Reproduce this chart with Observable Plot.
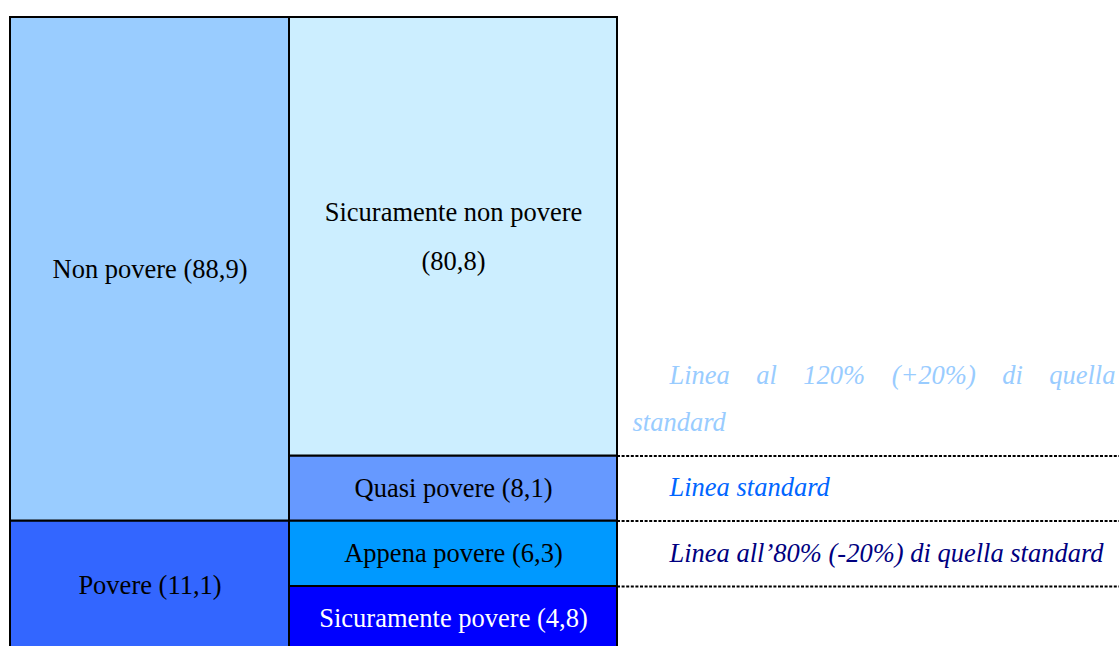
<!DOCTYPE html>
<html><head><meta charset="utf-8">
<script src="https://cdn.jsdelivr.net/npm/d3@7"></script>
<script src="https://cdn.jsdelivr.net/npm/@observablehq/plot@0.6"></script>
<style>html,body{margin:0;padding:0;background:#fff;overflow:hidden}</style>
</head><body><div id="chart"></div>
<script>
// Data
const gruppi = ["Povere", "Non povere"];
const gruppiValori = [11.1, 88.9];
const gruppiColori = ["#3366ff", "#99ccff"];
const sottogruppi = ["Sicuramente povere", "Appena povere", "Quasi povere", "Sicuramente non povere"];
const sottoValori = [4.8, 6.3, 8.1, 80.8];
const sottoColori = ["#0000ff", "#0099ff", "#6699ff", "#cceeff"];
const sottoTesto = ["white", "black", "black", "black"];
const linee = ["Linea all’80% (-20%) di quella standard", "Linea standard", "Linea al 120% (+20%) di quella standard"];
const lineeColori = ["#000080", "#0066ff", "#99ccff"];

const FONT = "'Liberation Serif', 'Times New Roman', Times, serif";
const FS = 26.5;

const fmt = v => String(v).replace(".", ",");
function stack(values){ let c = 0; return values.map(v => { const a = c; c = +(c + v).toFixed(1); return [a, c]; }); }
const gStack = stack(gruppiValori), sStack = stack(sottoValori);
const gData = gruppi.map((n,i) => ({col:0, nome:n, valore:gruppiValori[i], y1:gStack[i][0], y2:gStack[i][1], fill:gruppiColori[i], text:"black"}));
const sData = sottogruppi.map((n,i) => ({col:1, nome:n, valore:sottoValori[i], y1:sStack[i][0], y2:sStack[i][1], fill:sottoColori[i], text:sottoTesto[i]}));
const boxes = [...gData, ...sData];
const soglie = sData.slice(0, 3).map(d => d.y2);

// schematic (non-proportional) piecewise layout of the stacked shares
const yDomain = [0, ...sData.map(d => d.y2)];
const yDisp = d3.scaleLinear(yDomain, [0, 64, 129.5, 194.5, 633]);
const xDisp = d3.scaleLinear([0, 1, 2, 3], [0, 279, 607, 1109]);
const yRange = [650, 17], xRange = [10, 1119];
const yPix = d3.scaleLinear([0, 633], yRange);
const ys = v => yPix(yDisp(v));
ys.invert = p => yDisp.invert(yPix.invert(p));
const xs = v => d3.scaleLinear([0, 1109], xRange)(xDisp(v));

const ctx = document.createElement("canvas").getContext("2d");
function measure(t, italic){ ctx.font = (italic ? "italic " : "") + FS + "px " + FONT; return ctx.measureText(t).width; }

// box labels, one row per text line
const BOXGAP = 49;
const boxRighe = [];
boxes.forEach(d => {
  const one = `${d.nome} (${fmt(d.valore)})`;
  const w = xs(d.col + 1) - xs(d.col) - 20;
  const lines = measure(one) > w ? [d.nome, `(${fmt(d.valore)})`] : [one];
  const m = (ys(d.y1) + ys(d.y2)) / 2;
  lines.forEach((l, k) => boxRighe.push({testo: l, col: d.col, colore: d.text,
    y: ys.invert(m + (k - (lines.length - 1) / 2) * BOXGAP)}));
});

// right-side labels, wrapped
const INDENT = 52, CONT = 15, LINEGAP = 47, ABOVE = 33;
const avail = xs(3) - xs(2) - INDENT - 4;
const righe = [];
linee.forEach((t, i) => {
  const words = t.split(" ");
  const lines = []; let cur = [];
  words.forEach(w => {
    const test = [...cur, w].join(" ");
    if (cur.length && measure(test, true) > avail) { lines.push(cur.join(" ")); cur = [w]; }
    else cur.push(w);
  });
  lines.push(cur.join(" "));
  lines.forEach((l, k) => {
    righe.push({testo: l, riga: k, colore: lineeColori[i], giustifica: k < lines.length - 1,
      y: ys.invert(ys(soglie[i]) - ABOVE - LINEGAP * (lines.length - 1 - k))});
  });
});

const chart = Plot.plot({
  width: 1119, height: 646, margin: 0,
  x: {transform: xDisp, domain: [0, 1109], range: xRange, axis: null},
  y: {transform: yDisp, domain: [0, 633], range: yRange, axis: null},
  style: {fontFamily: FONT, fontSize: FS + "px", background: "white"},
  marks: [
    Plot.rect(boxes, {x1: "col", x2: d => d.col + 1, y1: "y1", y2: "y2", fill: d => d.fill, stroke: "black", strokeWidth: 2}),
    Plot.text(boxRighe, {x: d => d.col + 0.5, y: "y", text: "testo", fill: d => d.colore, fontSize: FS, fontFamily: FONT}),
    Plot.ruleY(soglie, {x1: 2, x2: 3, stroke: "#000", strokeWidth: 2, strokeDasharray: "3,1.6"}),
    Plot.text(righe.filter(d => d.riga === 0), {x: 2, y: "y", text: "testo", fill: d => d.colore, dx: INDENT, textAnchor: "start", fontStyle: "italic", fontSize: FS, fontFamily: FONT}),
    Plot.text(righe.filter(d => d.riga > 0), {x: 2, y: "y", text: "testo", fill: d => d.colore, dx: CONT, textAnchor: "start", fontStyle: "italic", fontSize: FS, fontFamily: FONT})
  ]
});
document.getElementById("chart").appendChild(chart);

// justify wrapped first lines
const target = xs(3) - xs(2) - INDENT - 4;
righe.filter(d => d.giustifica).forEach(d => {
  chart.querySelectorAll("text").forEach(el => {
    if (el.textContent === d.testo) {
      const w = el.getComputedTextLength();
      const spaces = (d.testo.match(/ /g) || []).length;
      if (spaces) el.setAttribute("word-spacing", ((target - w) / spaces).toFixed(2));
    }
  });
});
</script></body></html>
